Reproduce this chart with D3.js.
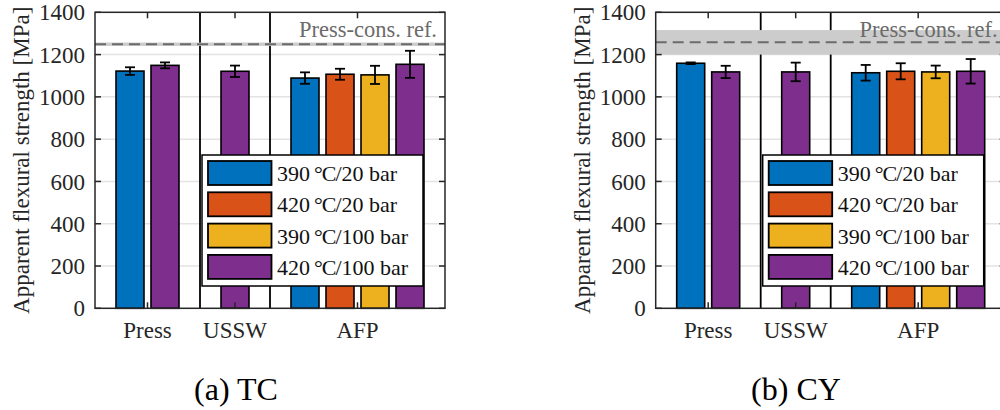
<!DOCTYPE html>
<html>
<head>
<meta charset="utf-8">
<script src="https://cdn.jsdelivr.net/npm/d3@7"></script>
<style>
  body { margin: 0; background: #fff; overflow: hidden; }
  svg { display: block; }
  svg text { font-family: "Liberation Serif", "DejaVu Serif", serif; }
</style>
</head>
<body>
<div class="canvas"></div>
<script>
// categories and series
const groups = ['Press', 'USSW', 'AFP'];
const groupSize = [2, 1, 4];
const seriesNames = ['390', '420', '390', '420'];
const seriesBar = ['20 bar', '20 bar', '100 bar', '100 bar'];
const seriesColors = ['#0072BD', '#D95319', '#EDB120', '#7E2F8E'];

// one entry per bar, in drawing order
const barSeries = [0, 3, 3, 0, 1, 2, 3];

// TC panel
const tcMean = [1122, 1149, 1121, 1089, 1107, 1104, 1154];
const tcErr = [18, 14, 27, 27, 26, 43, 64];
// CY panel
const cyMean = [1159, 1118, 1118, 1114, 1121, 1118, 1121];
const cyErr = [4, 29, 44, 37, 38, 30, 58];

// press-consolidated reference (mean, lower, upper)
const tcRef = [1249, 1241, 1257];
const cyRef = [1258, 1200, 1316];

const yTicks = [0, 200, 400, 600, 800, 1000, 1200, 1400];
const captions = ['(a) TC', '(b) CY'];

// chart dimensions
const W = 1000, H = 410;
const dims = {width: 350, height: 296, top: 12.3};
const panelLeft = [95, 655.7];
const captionX = [236, 796];

const svg = d3.select('.canvas')
  .append('svg')
  .attr('width', W)
  .attr('height', H);

// slot layout: each group gets its bars + one empty slot
const slotStart = [];
let s = 0;
groupSize.forEach(n => { slotStart.push(s); s += n + 1; });
const totalSlots = s;
const barSlot = [];
groupSize.forEach((n, gi) => { for (let k = 0; k < n; k++) barSlot.push(slotStart[gi] + 1 + k); });

const x = d3.scaleLinear().domain([0, totalSlots]).range([0, dims.width]);
const y = d3.scaleLinear().domain([0, 1400]).range([dims.height, 0]);
const barW = x(0.8) - x(0);

const drawPanel = (pi, mean, err, ref) => {
  const g = svg.append('g')
    .attr('transform', `translate(${panelLeft[pi]}, ${dims.top})`);

  // grid
  g.selectAll('.grid')
    .data(yTicks.filter(t => t > 0 && t < 1400))
    .enter().append('line')
    .attr('x1', 0).attr('x2', dims.width)
    .attr('y1', d => y(d)).attr('y2', d => y(d))
    .attr('stroke', '#e3e3e3')
    .attr('stroke-width', 1.5);

  // group separators
  g.selectAll('.sep')
    .data(slotStart.slice(1))
    .enter().append('line')
    .attr('x1', d => x(d)).attr('x2', d => x(d))
    .attr('y1', 0).attr('y2', dims.height)
    .attr('stroke', '#000')
    .attr('stroke-width', 1.8);

  // bars
  g.selectAll('.bar')
    .data(mean)
    .enter().append('rect')
    .attr('x', (d, i) => x(barSlot[i]) - barW / 2)
    .attr('width', barW)
    .attr('y', d => y(d))
    .attr('height', d => y(0) - y(d))
    .attr('fill', (d, i) => seriesColors[barSeries[i]])
    .attr('stroke', '#000')
    .attr('stroke-width', 1.6);

  // error bars
  const eb = g.selectAll('.err')
    .data(mean)
    .enter().append('g')
    .attr('stroke', '#000')
    .attr('stroke-width', 1.8);
  eb.append('line')
    .attr('x1', (d, i) => x(barSlot[i])).attr('x2', (d, i) => x(barSlot[i]))
    .attr('y1', (d, i) => y(d - err[i])).attr('y2', (d, i) => y(d + err[i]));
  [-1, 1].forEach(sg => {
    eb.append('line')
      .attr('x1', (d, i) => x(barSlot[i]) - 5).attr('x2', (d, i) => x(barSlot[i]) + 5)
      .attr('y1', (d, i) => y(d + sg * err[i])).attr('y2', (d, i) => y(d + sg * err[i]));
  });

  // reference band + dashed mean
  g.append('rect')
    .attr('x', 0).attr('width', dims.width)
    .attr('y', y(ref[2])).attr('height', y(ref[1]) - y(ref[2]))
    .attr('fill', '#cccccc');
  g.append('line')
    .attr('x1', 0).attr('x2', dims.width)
    .attr('y1', y(ref[0])).attr('y2', y(ref[0]))
    .attr('stroke', '#6b6b6b')
    .attr('stroke-width', 2)
    .attr('stroke-dasharray', '11,6');
  g.append('text')
    .attr('x', dims.width - 8)
    .attr('y', 25)
    .attr('text-anchor', 'end')
    .attr('font-size', 22.5)
    .attr('fill', '#6b6b6b')
    .text('Press-cons. ref.');

  // axis box
  g.append('rect')
    .attr('width', dims.width).attr('height', dims.height)
    .attr('fill', 'none')
    .attr('stroke', '#262626')
    .attr('stroke-width', 1.5);

  // y ticks (left and right, inward)
  const yt = g.selectAll('.yt')
    .data(yTicks)
    .enter().append('g')
    .attr('transform', d => `translate(0, ${y(d)})`);
  yt.append('line').attr('x1', 0).attr('x2', 6).attr('stroke', '#262626').attr('stroke-width', 1.5);
  yt.append('line').attr('x1', dims.width - 6).attr('x2', dims.width).attr('stroke', '#262626').attr('stroke-width', 1.5);
  yt.append('text')
    .attr('x', -10)
    .attr('dy', '0.35em')
    .attr('text-anchor', 'end')
    .attr('font-size', 23)
    .attr('fill', '#262626')
    .text(d => d);

  // x ticks at group centres
  const groupCentre = groups.map((gname, gi) => slotStart[gi] + (groupSize[gi] + 1) / 2);
  const xt = g.selectAll('.xt')
    .data(groups)
    .enter().append('g')
    .attr('transform', (d, i) => `translate(${x(groupCentre[i])}, 0)`);
  xt.append('line').attr('y1', 0).attr('y2', 6).attr('stroke', '#262626').attr('stroke-width', 1.5);
  xt.append('line').attr('y1', dims.height - 6).attr('y2', dims.height).attr('stroke', '#262626').attr('stroke-width', 1.5);
  xt.append('text')
    .attr('y', dims.height + 30)
    .attr('text-anchor', 'middle')
    .attr('font-size', 23)
    .attr('fill', '#262626')
    .text(d => d);

  // y label
  g.append('text')
    .attr('transform', `translate(-66, ${dims.height / 2}) rotate(-90)`)
    .attr('text-anchor', 'middle')
    .attr('font-size', 23)
    .attr('fill', '#262626')
    .text('Apparent flexural strength [MPa]');

  // legend
  const lg = g.append('g').attr('transform', 'translate(107, 142.7)');
  lg.append('rect')
    .attr('width', 221).attr('height', 131)
    .attr('fill', '#fff')
    .attr('stroke', '#000')
    .attr('stroke-width', 1.5);
  const item = lg.selectAll('.item')
    .data(seriesColors)
    .enter().append('g')
    .attr('transform', (d, i) => `translate(6, ${6 + i * 31.3})`);
  item.append('rect')
    .attr('width', 63.5).attr('height', 24)
    .attr('fill', d => d)
    .attr('stroke', '#000')
    .attr('stroke-width', 1.8);
  const lt = item.append('text')
    .attr('x', 69)
    .attr('y', 20)
    .attr('font-size', 22)
    .attr('fill', '#111');
  lt.append('tspan').text((d, i) => seriesNames[i]);
  lt.append('tspan').attr('dx', 4).attr('letter-spacing', -1).text('°C');
  lt.append('tspan').text((d, i) => '/' + seriesBar[i]);

  // caption
  svg.append('text')
    .attr('x', captionX[pi])
    .attr('y', 400)
    .attr('text-anchor', 'middle')
    .attr('font-size', 32)
    .attr('fill', '#000')
    .text(captions[pi]);
};

drawPanel(0, tcMean, tcErr, tcRef);
drawPanel(1, cyMean, cyErr, cyRef);
</script>
</body>
</html>
